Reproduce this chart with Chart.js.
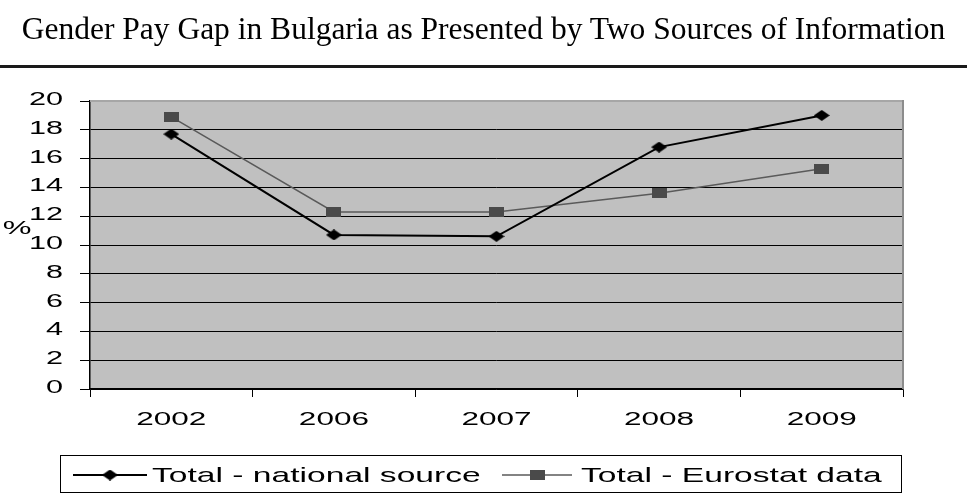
<!DOCTYPE html>
<html>
<head>
<meta charset="utf-8">
<script src="https://cdn.jsdelivr.net/npm/chart.js@4/dist/chart.umd.min.js"></script>
<style>
  html, body { margin: 0; padding: 0; background: #fff; width: 967px; height: 495px; overflow: hidden; }
  #wrap { position: relative; width: 967px; height: 495px; }
  #title { position: absolute; left: 0; top: 11px; width: 967px; text-align: center;
           font-family: 'Liberation Serif', 'Times New Roman', serif; font-size: 31.5px; line-height: 36px; color: #000; white-space: nowrap; }
  #rule { position: absolute; left: 0; top: 65px; width: 967px; height: 3px; background: #1a1a1a; }
  #c { position: absolute; left: 0; top: 0; }
</style>
</head>
<body>
<div id="wrap">
  <canvas id="c" width="967" height="495"></canvas>
  <div id="title"></div>
  <div id="rule"></div>
</div>
<script>
const titleText = 'Gender Pay Gap in Bulgaria as Presented by Two Sources of Information';
const categories = ['2002', '2006', '2007', '2008', '2009'];
const nationalSource = [17.7, 10.7, 10.6, 16.8, 19.0];
const eurostatData = [18.9, 12.3, 12.3, 13.6, 15.3];
const seriesLabels = ['Total - national source', 'Total - Eurostat data'];
const yAxisTitle = '%';
const yMin = 0, yMax = 20, yStep = 2;

document.getElementById('title').textContent = titleText;

function makeDiamond(w, h, color) {
  const c = document.createElement('canvas'); c.width = w; c.height = h;
  const x = c.getContext('2d'); x.fillStyle = color;
  x.beginPath(); x.moveTo(w / 2, 0); x.lineTo(w, h / 2); x.lineTo(w / 2, h); x.lineTo(0, h / 2); x.closePath(); x.fill();
  return c;
}
function makeRect(w, h, color) {
  const c = document.createElement('canvas'); c.width = w; c.height = h;
  const x = c.getContext('2d'); x.fillStyle = color; x.fillRect(0, 0, w, h);
  return c;
}
const diamondImg = makeDiamond(16, 11, '#000');
const squareImg = makeRect(15, 10, '#4a4a4a');

const FONT = "'Liberation Sans', Arial, sans-serif";
function stretchText(ctx, text, x, y, size, sx, align) {
  ctx.save();
  ctx.font = size + 'px ' + FONT;
  ctx.fillStyle = '#000';
  ctx.textBaseline = 'middle';
  ctx.textAlign = align;
  ctx.translate(x, y);
  ctx.scale(sx, 1);
  ctx.fillText(text, 0, 0);
  ctx.restore();
}

const decor = {
  id: 'decor',
  beforeDraw(chart) {
    const { ctx, chartArea: a } = chart;
    ctx.save();
    ctx.fillStyle = '#c0c0c0';
    ctx.fillRect(a.left, a.top, a.right - a.left, a.bottom - a.top);
    ctx.restore();
  },
  afterDraw(chart) {
    const { ctx, chartArea: a } = chart;
    const ys = chart.scales.y, xs = chart.scales.x;
    ctx.save();
    ctx.fillStyle = '#a6a6a6';
    ctx.fillRect(a.left, a.top - 1, a.right - a.left + 1, 2);
    ctx.fillStyle = '#8c8c8c';
    ctx.fillRect(a.right - 1, a.top - 1, 2, a.bottom - a.top + 1);
    ctx.restore();
    ys.ticks.forEach(t => {
      stretchText(ctx, String(t.value), 63, ys.getPixelForValue(t.value) - 1, 18, 1.7, 'right');
    });
    categories.forEach((c, i) => {
      stretchText(ctx, c, xs.getPixelForValue(i), 420, 18, 1.75, 'center');
    });
    stretchText(ctx, yAxisTitle, 17, 229, 19, 1.7, 'center');
    ctx.save();
    ctx.strokeStyle = '#000'; ctx.lineWidth = 1;
    ctx.strokeRect(60.5, 455.5, 841, 37);
    const ly = 475;
    const ds = chart.data.datasets;
    const items = [
      { x0: 73, x1: 147, img: diamondImg, tx: 152, ds: ds[0] },
      { x0: 502, x1: 572, img: squareImg, tx: 581, ds: ds[1] }
    ];
    items.forEach(it => {
      ctx.strokeStyle = it.ds.borderColor; ctx.lineWidth = it.ds.borderWidth;
      ctx.beginPath(); ctx.moveTo(it.x0, ly); ctx.lineTo(it.x1, ly); ctx.stroke();
      const cx = (it.x0 + it.x1) / 2;
      ctx.drawImage(it.img, cx - it.img.width / 2, ly - it.img.height / 2);
      stretchText(ctx, it.ds.label, it.tx, ly + 1, 21, 1.6, 'left');
    });
    ctx.restore();
  }
};

new Chart(document.getElementById('c'), {
  type: 'line',
  data: {
    labels: categories,
    datasets: [
      { label: seriesLabels[0], data: nationalSource, borderColor: '#000', borderWidth: 2,
        pointStyle: diamondImg, pointRadius: 7, pointHoverRadius: 7, fill: false, tension: 0 },
      { label: seriesLabels[1], data: eurostatData, borderColor: '#5a5a5a', borderWidth: 1.5,
        pointStyle: squareImg, pointRadius: 7, pointHoverRadius: 7, fill: false, tension: 0 }
    ]
  },
  options: {
    responsive: false,
    animation: false,
    devicePixelRatio: 1,
    events: [],
    layout: { padding: { top: 101, right: 64, bottom: 0, left: 0 } },
    plugins: { legend: { display: false }, title: { display: false }, tooltip: { enabled: false } },
    scales: {
      x: {
        offset: true,
        grid: { offset: true, drawOnChartArea: false, drawTicks: true, tickLength: 8, color: '#000', lineWidth: 1 },
        border: { display: true, color: '#000', width: 1.5 },
        ticks: { display: false },
        afterFit(scale) { scale.height = 106; }
      },
      y: {
        min: yMin, max: yMax,
        ticks: { display: false, stepSize: yStep },
        grid: {
          color: ctx => (ctx.tick && ctx.tick.value === yMax) ? 'rgba(0,0,0,0)' : '#000',
          tickColor: '#000', lineWidth: 1, tickLength: 10, drawTicks: true
        },
        border: { display: true, color: '#000', width: 1.5 },
        afterFit(scale) { scale.width = 90; }
      }
    }
  },
  plugins: [decor]
});
</script>
</body>
</html>
